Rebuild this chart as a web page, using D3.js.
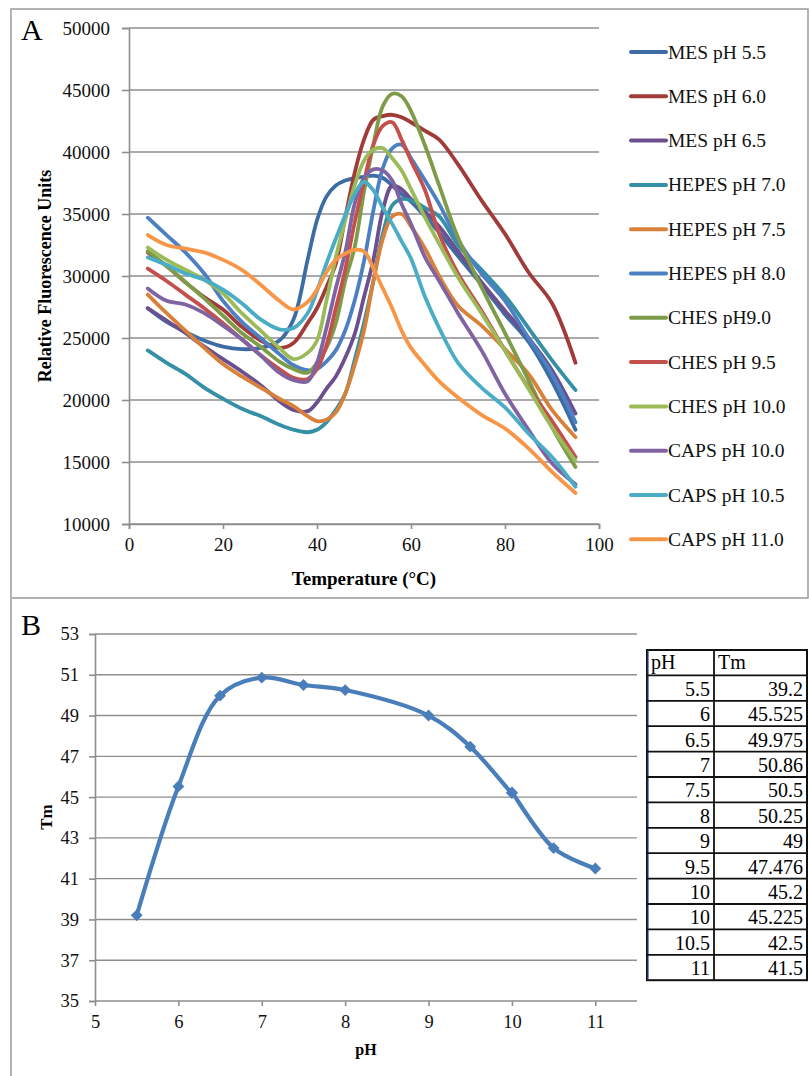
<!DOCTYPE html>
<html>
<head>
<meta charset="utf-8">
<script src="https://cdnjs.cloudflare.com/ajax/libs/d3/7.8.5/d3.min.js"></script>
<style>
body{margin:0;background:#fff;}
svg{display:block;font-family:"Liberation Serif","Times New Roman",serif;}
</style>
</head>
<body>
<svg id="fig" width="809" height="1076"></svg>
<script>
// panel A: melt curves, one value per temperature
var temps=[4,8,12,16,20,24,28,32,35,38,40,42,44,46,48,50,52,54,56,58,60,63,66,70,75,80,85,90,95];

var mes55=[27400,26300,25500,24800,24300,24100,24200,24800,26500,31300,34500,36400,37300,37700,37900,38000,38100,37900,37300,36600,36000,34800,33500,31600,29300,26900,24700,21500,17600];
var mes60=[31900,30800,29500,28300,27300,25900,24800,24200,24600,26200,27400,29100,31000,34700,38300,41000,42600,42900,43000,42800,42400,41700,41000,39000,36100,33400,30300,27800,23000];
var mes65=[27400,26400,25400,24300,23300,22300,21200,19900,19200,19100,19800,20900,21900,23400,25300,28300,31300,35300,37300,37000,36200,35200,34000,32000,29500,27200,25000,22400,18900];
var hepes70=[24000,23000,22100,21000,20100,19300,18700,18000,17600,17400,17600,18200,19200,20500,23200,26200,29600,33400,35700,36200,36100,35500,34800,32500,30500,28400,25800,23200,20800];
var hepes75=[28500,27000,25600,24200,22900,21900,21000,20100,19500,18700,18300,18400,19000,20500,22800,25600,29600,33000,34800,35000,34000,32200,30000,27600,26000,24100,22100,19200,17000];
var hepes80=[34700,33300,31900,30200,28000,26300,25000,23700,22800,22400,22500,23100,24000,25600,28000,31200,35300,38700,40300,40600,39500,37700,35800,32900,30200,28000,25000,22100,18200];
var ches90=[32000,30800,29500,28200,26800,25400,24300,23100,22500,22200,23000,24200,26200,29600,32300,36800,40600,43700,44700,44500,43300,40500,37300,33100,29100,25400,21600,17800,14600];
var ches95=[30600,29600,28500,27400,26200,24900,23600,22500,21800,21700,22500,24400,27400,30500,34300,37600,40600,42100,42400,41000,39300,36900,33400,30200,27200,24000,21000,18300,15400];
var ches100=[32300,31300,30500,29700,28600,27000,25600,24200,23300,23800,24800,28000,31500,34500,37300,39300,40200,40300,39500,38500,37000,34700,32600,29900,27000,24000,20900,17800,15100];
var caps100=[29000,28000,27700,27000,26000,24900,23600,22200,21600,21500,23000,25800,29000,31900,35800,37900,38600,38500,37700,35800,34200,31500,29600,27000,24000,20500,17600,14900,13200];
var caps105=[31500,30900,30200,29700,28900,27800,26500,25700,25800,27000,28800,31000,33000,34900,36600,37600,36900,35500,34200,32800,31400,28300,25800,23000,21000,19400,17300,15400,13000];
var caps110=[33300,32500,32200,31900,31300,30500,29300,28000,27300,27900,28900,30300,31300,31800,32100,32000,30600,29000,27400,25600,24200,22800,21500,20200,18800,17700,16100,14200,12500];

var seriesNames=["MES pH 5.5","MES pH 6.0","MES pH 6.5","HEPES pH 7.0","HEPES pH 7.5","HEPES pH 8.0","CHES pH9.0","CHES pH 9.5","CHES pH 10.0","CAPS pH 10.0","CAPS pH 10.5","CAPS pH 11.0"];
var seriesValues=[mes55,mes60,mes65,hepes70,hepes75,hepes80,ches90,ches95,ches100,caps100,caps105,caps110];
var seriesColors=["#3d6ca5","#a13b39","#6c4f8e","#3590a6","#d8813a","#4c80c2","#7e9c47","#c4504d","#9bbb59","#8064a2","#4bacc6","#f79646"];

var yTicksA=[10000,15000,20000,25000,30000,35000,40000,45000,50000];
var xTicksA=[0,20,40,60,80,100];

// panel B: Tm vs pH (table rows)
var tablePH=["5.5","6","6.5","7","7.5","8","9","9.5","10","10","10.5","11"];
var tableTm=["39.2","45.525","49.975","50.86","50.5","50.25","49","47.476","45.2","45.225","42.5","41.5"];
var yTicksB=[35,37,39,41,43,45,47,49,51,53];
var xTicksB=[5,6,7,8,9,10,11];

var svg=d3.select("#fig");
var grid="#8e8e8e";

svg.append("rect").attr("width",809).attr("height",1076).attr("fill","#fff");

// panel frames
svg.append("rect")
.attr("x",11).attr("y",9).attr("width",797).attr("height",589)
.attr("fill","none").attr("stroke","#9a9a9a").attr("stroke-width",1.5);
svg.append("path")
.attr("d","M11,599V1076")
.attr("stroke","#9a9a9a").attr("stroke-width",1.5);

svg.append("text").text("A").attr("x",21).attr("y",40)
.attr("font-size",30);
svg.append("text").text("B").attr("x",21).attr("y",635)
.attr("font-size",30);

var drawPanelA=function()
{
var x=d3.scaleLinear().domain([0,100]).range([129,599]);
var y=d3.scaleLinear().domain([10000,50000]).range([524,28]);

svg.append("g").selectAll("line")
.data(yTicksA)
.enter()
.append("line")
.attr("x1",129).attr("x2",599)
.attr("y1",function(d){return y(d);})
.attr("y2",function(d){return y(d);})
.attr("stroke",grid).attr("stroke-width",1.4);

var ax=svg.append("g")
.attr("transform","translate(0,524)")
.call(d3.axisBottom(x).tickValues(xTicksA).tickSize(5).tickPadding(9));
var ay=svg.append("g")
.attr("transform","translate(129,0)")
.call(d3.axisLeft(y).tickValues(yTicksA).tickSize(7).tickPadding(12).tickFormat(d3.format("d")));
[ax,ay].forEach(function(a){
  a.selectAll("path,line").attr("stroke",grid).attr("stroke-width",1.6);
  a.selectAll("text").attr("font-size",19).attr("fill","#111")
   .attr("font-family","'Liberation Serif',serif");
});

var line=d3.line()
.x(function(d,i){return x(temps[i]);})
.y(function(d){return y(d);})
.curve(d3.curveCatmullRom.alpha(0.5));

svg.append("g").selectAll("path")
.data(seriesValues)
.enter()
.append("path")
.attr("d",function(d){return line(d);})
.attr("fill","none")
.attr("stroke",function(d,i){return seriesColors[i];})
.attr("stroke-width",3.8)
.attr("stroke-linejoin","round")
.attr("stroke-linecap","round");

svg.append("text").text("Temperature (\u00B0C)")
.attr("x",364).attr("y",585)
.attr("text-anchor","middle").attr("font-weight","bold").attr("font-size",19);
svg.append("text").text("Relative Fluorescence Units")
.attr("transform","translate(51,276) rotate(-90)")
.attr("text-anchor","middle").attr("font-weight","bold").attr("font-size",18);

// legend
var lg=svg.append("g").selectAll("g")
.data(seriesNames)
.enter()
.append("g")
.attr("transform",function(d,i){return "translate(0,"+(52+i*44.3)+")";});
lg.append("line")
.attr("x1",631).attr("x2",666)
.attr("stroke",function(d,i){return seriesColors[i];})
.attr("stroke-width",4).attr("stroke-linecap","round");
lg.append("text")
.text(function(d){return d;})
.attr("x",668).attr("y",6.5)
.attr("font-size",19.5).attr("fill","#111");
}

var drawPanelB=function()
{
var x=d3.scaleLinear().domain([5,11.5]).range([95,637]);
var y=d3.scaleLinear().domain([35,53]).range([1001,634]);

svg.append("g").selectAll("line")
.data(yTicksB)
.enter()
.append("line")
.attr("x1",95).attr("x2",637)
.attr("y1",function(d){return y(d);})
.attr("y2",function(d){return y(d);})
.attr("stroke",grid).attr("stroke-width",1.4);

var ax=svg.append("g")
.attr("transform","translate(0,1001)")
.call(d3.axisBottom(x).tickValues(xTicksB).tickSize(5).tickPadding(9).tickFormat(d3.format("d")));
ax.select(".domain").remove();
var ay=svg.append("g")
.attr("transform","translate(95,0)")
.call(d3.axisLeft(y).tickValues(yTicksB).tickSize(6).tickPadding(10).tickFormat(d3.format("d")));
[ax,ay].forEach(function(a){
  a.selectAll("path,line").attr("stroke",grid).attr("stroke-width",1.6);
  a.selectAll("text").attr("font-size",18.5).attr("fill","#111")
   .attr("font-family","'Liberation Serif',serif");
});

var pts=tablePH.map(function(p,i){return [+p,+tableTm[i]];});
var line=d3.line()
.x(function(d){return x(d[0]);})
.y(function(d){return y(d[1]);})
.curve(d3.curveCatmullRom.alpha(0.5));

svg.append("path")
.attr("d",line(pts))
.attr("fill","none").attr("stroke","#4a7ebb").attr("stroke-width",4.2);

svg.append("g").selectAll("path")
.data(pts)
.enter()
.append("path")
.attr("d",d3.symbol().type(d3.symbolDiamond2).size(90))
.attr("transform",function(d){return "translate("+x(d[0])+","+y(d[1])+")";})
.attr("fill","#4a7ebb");

svg.append("text").text("pH")
.attr("x",366).attr("y",1055)
.attr("text-anchor","middle").attr("font-weight","bold").attr("font-size",16);
svg.append("text").text("Tm")
.attr("transform","translate(52,817) rotate(-90)")
.attr("text-anchor","middle").attr("font-weight","bold").attr("font-size",17);
}

var drawTable=function()
{
var left=647, mid=714, right=807, top=650, rowH=25.4;
var rows=tablePH.length+1;
var tb=svg.append("g");

tb.append("rect")
.attr("x",left).attr("y",top).attr("width",right-left).attr("height",rows*rowH)
.attr("fill","#fff").attr("stroke","#111").attr("stroke-width",2);
tb.append("line").attr("x1",left+1).attr("x2",left+1)
.attr("y1",top).attr("y2",top+rows*rowH)
.attr("stroke","#2b3f8c").attr("stroke-width",1.2);
tb.append("line").attr("x1",mid).attr("x2",mid)
.attr("y1",top).attr("y2",top+rows*rowH)
.attr("stroke","#111").attr("stroke-width",1.8);

tb.selectAll(".rowline")
.data(d3.range(1,rows))
.enter()
.append("line")
.attr("x1",left).attr("x2",right)
.attr("y1",function(d){return top+d*rowH;})
.attr("y2",function(d){return top+d*rowH;})
.attr("stroke","#111").attr("stroke-width",1.8);

tb.append("text").text("pH").attr("x",left+4).attr("y",top+rowH-6).attr("font-size",20);
tb.append("text").text("Tm").attr("x",mid+4).attr("y",top+rowH-6).attr("font-size",20);

tb.selectAll(".ph")
.data(tablePH)
.enter()
.append("text")
.text(function(d){return d;})
.attr("x",mid-4)
.attr("y",function(d,i){return top+(i+2)*rowH-5;})
.attr("text-anchor","end").attr("font-size",20);

tb.selectAll(".tm")
.data(tableTm)
.enter()
.append("text")
.text(function(d){return d;})
.attr("x",right-4)
.attr("y",function(d,i){return top+(i+2)*rowH-5;})
.attr("text-anchor","end").attr("font-size",20);
}

drawPanelA();
drawPanelB();
drawTable();
</script>
</body>
</html>
